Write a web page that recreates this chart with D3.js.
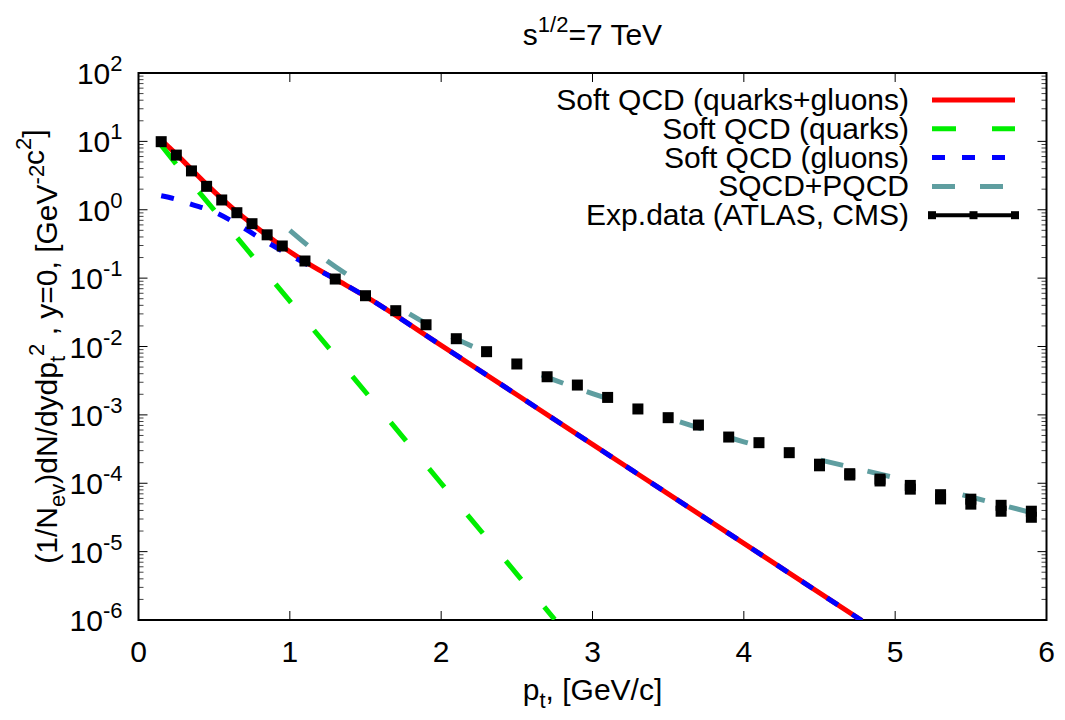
<!DOCTYPE html>
<html>
<head>
<meta charset="utf-8">
<script src="https://cdn.jsdelivr.net/npm/d3@7"></script>
<style>
body { margin: 0; background: #fff; }
text { font-family: "Liberation Sans", Arial, sans-serif; fill: #000; }
</style>
</head>
<body>
<div id="chart"></div>
<script>
// curves
var ptSum = [0.15, 0.25, 0.35, 0.45, 0.55, 0.65, 0.75, 0.85, 0.95, 1.1, 1.3, 1.5, 2.0, 2.5, 3.0, 3.5, 4.0, 4.5, 4.78];
var softSum = [10.5, 6.5, 3.9, 2.35, 1.45, 0.93, 0.62, 0.42, 0.29, 0.175, 0.097, 0.054, 0.0104, 0.00197, 3.7e-4, 7.0e-5, 1.32e-5, 2.49e-6, 9.8e-7];

var ptQuarks = [0.15, 0.25, 0.5, 0.75, 1.0, 1.5, 2.0, 2.5, 2.75];
var softQuarks = [8.8, 4.6, 0.99, 0.214, 0.046, 2.16e-3, 1.0e-4, 4.7e-6, 1.02e-6];

var ptGluons = [0.15, 0.25, 0.35, 0.5, 0.65, 0.8, 0.95, 1.1, 1.3, 1.5, 2.0, 2.5, 3.0, 3.5, 4.0, 4.5, 4.78];
var softGluons = [1.6, 1.42, 1.2, 0.93, 0.62, 0.39, 0.25, 0.165, 0.097, 0.054, 0.0104, 0.00197, 3.7e-4, 7.0e-5, 1.32e-5, 2.49e-6, 9.8e-7];

var ptTotal = [1.0, 1.25, 1.5, 1.75, 2.0, 2.25, 2.5, 2.75, 3.0, 3.5, 4.0, 4.5, 5.0, 5.5, 5.95];
var sqcdPqcd = [0.50, 0.177, 0.076, 0.034, 0.0165, 0.0091, 0.0054, 0.00323, 0.00205, 9.0e-4, 4.04e-4, 2.2e-4, 1.2e-4, 6.3e-5, 3.47e-5];

// experimental points
var ptAtlas = [0.15, 0.25, 0.35, 0.45, 0.55, 0.65, 0.75, 0.85, 0.95, 1.1, 1.3, 1.5, 1.7, 1.9, 2.1, 2.3, 2.5, 2.7, 2.9, 3.1, 3.3, 3.5, 3.7, 3.9, 4.1, 4.3, 4.5, 4.7, 4.9, 5.1, 5.3, 5.5, 5.7, 5.9];
var yAtlas = [9.9, 6.3, 3.7, 2.2, 1.39, 0.905, 0.625, 0.43, 0.295, 0.178, 0.097, 0.0553, 0.0334, 0.0208, 0.013, 0.0084, 0.00555, 0.00361, 0.00273, 0.0018, 0.00122, 0.00091, 0.00071, 0.000474, 0.000392, 0.00028, 0.00019, 0.000138, 0.000115, 0.000093, 0.000068, 0.0000585, 0.0000476, 0.000039];
var ptCms = [4.5, 4.7, 4.9, 5.1, 5.3, 5.5, 5.7, 5.9];
var yCms = [0.00018, 0.000132, 0.000108, 0.000082, 0.000059, 0.0000495, 0.000039, 0.0000318];

var xTicks = [0, 1, 2, 3, 4, 5, 6];
var yExponents = [-6, -5, -4, -3, -2, -1, 0, 1, 2];

var legendNames = ["Soft QCD (quarks+gluons)", "Soft QCD (quarks)", "Soft QCD (gluons)", "SQCD+PQCD", "Exp.data (ATLAS, CMS)"];

var width = 1065, height = 720;
var margin = {top: 73, right: 18.5, bottom: 100, left: 138.5};
var w = width - margin.left - margin.right,
    h = height - margin.top - margin.bottom;
var fs = 30, fsSmall = 22;

var svg = d3.select("#chart").append("svg")
    .attr("width", width)
    .attr("height", height);

var g = svg.append("g")
    .attr("transform", "translate(" + margin.left + "," + margin.top + ")");

var xScale = d3.scaleLinear().domain([0, 6]).range([0, w]);
var yScale = d3.scaleLog().domain([1e-6, 1e2]).range([h, 0]);

g.append("clipPath").attr("id", "clip")
  .append("rect").attr("width", w).attr("height", h);

// x ticks, bottom and top, inward
xTicks.forEach(function(t) {
    g.append("line").attr("x1", xScale(t)).attr("x2", xScale(t))
        .attr("y1", h).attr("y2", h - 9).attr("stroke", "#000");
    g.append("line").attr("x1", xScale(t)).attr("x2", xScale(t))
        .attr("y1", 0).attr("y2", 9).attr("stroke", "#000");
    g.append("text").attr("x", xScale(t)).attr("y", h + 42)
        .attr("text-anchor", "middle").attr("font-size", fs).text(t);
});

// y ticks: decades and minors, left and right
yExponents.forEach(function(e) {
    var yy = yScale(Math.pow(10, e));
    [0, w].forEach(function(xx, i) {
        var dir = i == 0 ? 1 : -1;
        g.append("line").attr("x1", xx).attr("x2", xx + dir * 9)
            .attr("y1", yy).attr("y2", yy).attr("stroke", "#000");
        if (e < 2) {
            for (var m = 2; m < 10; m++) {
                var ym = yScale(m * Math.pow(10, e));
                g.append("line").attr("x1", xx).attr("x2", xx + dir * 5)
                    .attr("y1", ym).attr("y2", ym).attr("stroke", "#444");
            }
        }
    });
    var lab = g.append("text").attr("x", -16).attr("y", yy + 11)
        .attr("text-anchor", "end").attr("font-size", fs);
    lab.append("tspan").text("10");
    lab.append("tspan").attr("dy", -13).attr("font-size", fsSmall).text(e);
});

// frame
g.append("rect").attr("width", w).attr("height", h)
    .attr("fill", "none").attr("stroke", "#000").attr("stroke-width", 2);

var line = d3.line()
    .x(function(d) { return xScale(d[0]); })
    .y(function(d) { return yScale(d[1]); })
    .curve(d3.curveMonotoneX);

var plot = g.append("g").attr("clip-path", "url(#clip)");

function curve(xs, ys, color, dash) {
    plot.append("path")
        .datum(d3.zip(xs, ys))
        .attr("d", line)
        .attr("fill", "none")
        .attr("stroke", color)
        .attr("stroke-width", 5)
        .attr("stroke-dasharray", dash);
}

curve(ptSum, softSum, "#ff0000", null);
curve(ptQuarks, softQuarks, "#00ee00", "24,36");
curve(ptGluons, softGluons, "#0000ff", "13,17");
curve(ptTotal, sqcdPqcd, "#5f9ea0", "23,25,23,75");

var sq = 11;
plot.selectAll(".atlas").data(d3.zip(ptAtlas, yAtlas)).enter()
    .append("rect").attr("class", "atlas")
    .attr("x", function(d) { return xScale(d[0]) - sq / 2; })
    .attr("y", function(d) { return yScale(d[1]) - sq / 2; })
    .attr("width", sq).attr("height", sq).attr("fill", "#000");
plot.selectAll(".cms").data(d3.zip(ptCms, yCms)).enter()
    .append("rect").attr("class", "cms")
    .attr("x", function(d) { return xScale(d[0]) - sq / 2; })
    .attr("y", function(d) { return yScale(d[1]) - sq / 2; })
    .attr("width", sq).attr("height", sq).attr("fill", "#000");

// legend
var legColors = ["#ff0000", "#00ee00", "#0000ff", "#5f9ea0", "#000"];
var legDash = [null, "24,36", "13,17", "23,25", null];
var leg = svg.append("g");
legendNames.forEach(function(name, i) {
    var ly = 100 + i * 28.8;
    leg.append("text").attr("x", 909).attr("y", ly + 10)
        .attr("text-anchor", "end").attr("font-size", fs).text(name);
    leg.append("line").attr("x1", 932).attr("x2", 1015)
        .attr("y1", ly).attr("y2", ly)
        .attr("stroke", legColors[i])
        .attr("stroke-width", i == 4 ? 4 : 5)
        .attr("stroke-dasharray", legDash[i]);
    if (i == 4) {
        [932, 973.5, 1015].forEach(function(px) {
            leg.append("rect").attr("x", px - 4).attr("y", ly - 4)
                .attr("width", 8).attr("height", 8).attr("fill", "#000");
        });
    }
});

// title and axis labels
var title = svg.append("text").attr("x", 592.5).attr("y", 45)
    .attr("text-anchor", "middle").attr("font-size", fs);
title.append("tspan").text("s");
title.append("tspan").attr("dy", -13).attr("font-size", fsSmall).text("1/2");
title.append("tspan").attr("dy", 13).text("=7 TeV");

var xl = svg.append("text").attr("x", 592.5).attr("y", 700)
    .attr("text-anchor", "middle").attr("font-size", fs);
xl.append("tspan").text("p");
xl.append("tspan").attr("dy", 8).attr("font-size", fsSmall).text("t");
xl.append("tspan").attr("dy", -8).text(", [GeV/c]");

var yl = svg.append("text")
    .attr("transform", "translate(57," + (margin.top + h / 2) + ") rotate(-90)")
    .attr("text-anchor", "middle").attr("font-size", fs);
yl.append("tspan").text("(1/N");
yl.append("tspan").attr("dy", 8).attr("font-size", fsSmall).text("ev");
yl.append("tspan").attr("dy", -8).text(")dN/dydp");
yl.append("tspan").attr("dy", 8).attr("font-size", fsSmall).text("t");
yl.append("tspan").attr("dy", -21).attr("font-size", fsSmall).text("2");
yl.append("tspan").attr("dy", 13).text(" , y=0, [GeV");
yl.append("tspan").attr("dy", -13).attr("font-size", fsSmall).text("-2");
yl.append("tspan").text("c");
yl.append("tspan").attr("dy", -13).attr("font-size", fsSmall).text("2");
yl.append("tspan").attr("dy", 13).text("]");
</script>
</body>
</html>
